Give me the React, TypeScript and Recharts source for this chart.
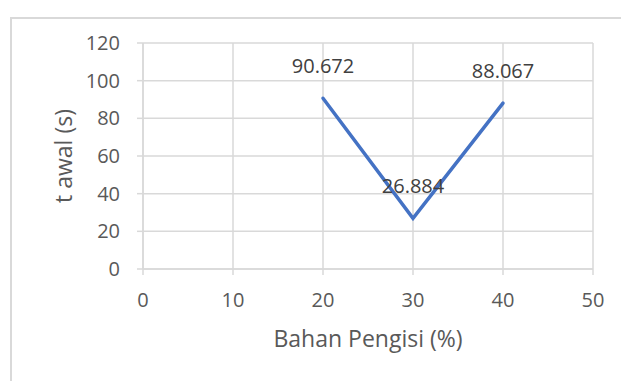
import { LineChart, Line, XAxis, YAxis, CartesianGrid, LabelList, Label } from "recharts"

const FILLER = [20, 30, 40]
const T_AWAL = [90.672, 26.884, 88.067]
const X_TICKS = [0, 10, 20, 30, 40, 50]
const Y_TICKS = [0, 20, 40, 60, 80, 100, 120]

const FONT = "'Open Sans', sans-serif"
const GRID = "#d9d9d9"
const TEXT = "#595959"

const data = FILLER.map((x, i) => ({ x, t: T_AWAL[i] }))

function PointLabel(props: any) {
  const { x, y, value } = props
  return (
    <text x={x} y={y - 25} textAnchor="middle" fontFamily={FONT} fontSize={20} fill="#404040">
      {String(value)}
    </text>
  )
}

export default function App() {
  if (typeof document !== "undefined") document.body.style.margin = "0"
  return (
    <div style={{ position: "relative", width: 621, height: 381, overflow: "hidden", background: "#fff" }}>
      <div
        style={{
          position: "absolute", left: 10, top: 17, width: 700, height: 500,
          border: `2px solid ${GRID}`, boxSizing: "border-box",
        }}
      />
      <div style={{ position: "absolute", left: 0, top: 0 }}>
        <LineChart width={621} height={381} data={data} margin={{ top: 43, right: 28, bottom: 0, left: 0 }}>
          <CartesianGrid stroke={GRID} strokeWidth={1.5} />
          <XAxis
            dataKey="x" type="number" domain={[0, 50]} ticks={X_TICKS} height={112}
            stroke={GRID} strokeWidth={1.5} tickSize={6} tickMargin={18}
            tick={{ fill: TEXT, fontSize: 20, fontFamily: FONT }}
          >
            <Label
              content={({ viewBox }: any) => (
                <text x={viewBox.x + viewBox.width / 2} y={viewBox.y + 78} textAnchor="middle"
                  fontFamily={FONT} fontSize={23} fill={TEXT}>
                  Bahan Pengisi (%)
                </text>
              )}
            />
          </XAxis>
          <YAxis
            type="number" domain={[0, 120]} ticks={Y_TICKS} width={143}
            stroke={GRID} strokeWidth={1.5} tickSize={6} tickMargin={17}
            tick={{ fill: TEXT, fontSize: 20, fontFamily: FONT }}
          >
            <Label
              content={({ viewBox }: any) => {
                const cy = viewBox.y + viewBox.height / 2
                return (
                  <text x={72} y={cy} transform={`rotate(-90 72 ${cy})`} textAnchor="middle"
                    fontFamily={FONT} fontSize={23} fill={TEXT}>
                    t awal (s)
                  </text>
                )
              }}
            />
          </YAxis>
          <Line
            dataKey="t" stroke="#4472C4" strokeWidth={3.5} dot={false}
            strokeLinecap="round" strokeLinejoin="miter" isAnimationActive={false}
          >
            <LabelList dataKey="t" content={PointLabel} />
          </Line>
        </LineChart>
      </div>
    </div>
  )
}
